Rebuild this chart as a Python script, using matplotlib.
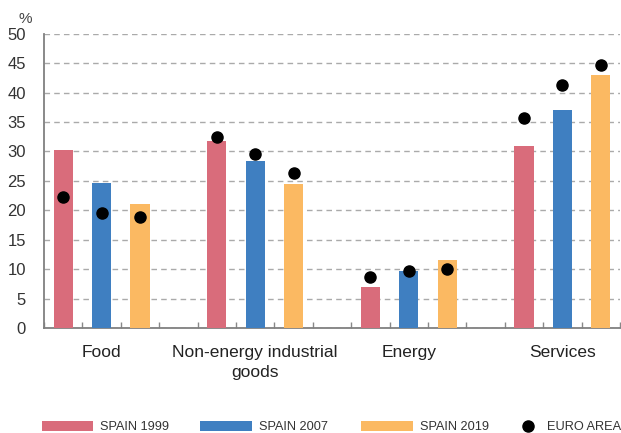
import matplotlib
matplotlib.use("Agg")
import matplotlib.pyplot as plt
from matplotlib.patches import Patch
from matplotlib.lines import Line2D
from matplotlib import font_manager as fm

categories = ["Food", "Non-energy industrial\ngoods", "Energy", "Services"]
series_names = ["SPAIN 1999", "SPAIN 2007", "SPAIN 2019"]
spain_1999 = [30.3, 31.8, 6.9, 31.0]
spain_2007 = [24.7, 28.4, 9.7, 37.1]
spain_2019 = [21.1, 24.5, 11.6, 42.9]
euro_1999 = [22.3, 32.4, 8.7, 35.7]
euro_2007 = [19.5, 29.5, 9.6, 41.3]
euro_2019 = [18.9, 26.4, 10.1, 44.6]
euro_name = "EURO AREA"
yticks = [0, 5, 10, 15, 20, 25, 30, 35, 40, 45, 50]

colors = ["#D96C7B", "#3F7FC1", "#FBB962"]

plt.rcParams['font.family'] = ['Liberation Sans', 'DejaVu Sans']
names = {f.name for f in fm.fontManager.ttflist}
if 'Liberation Sans Narrow' in names:
    narrow, nsize = 'Liberation Sans Narrow', 10.5
else:
    narrow, nsize = 'Liberation Sans', 9.2

fig = plt.figure(figsize=(6.21, 4.33), dpi=100)
ax = fig.add_axes([44/621, 1-328/433, 576/621, (328-33.7)/433])

spain = [spain_1999, spain_2007, spain_2019]
euro = [euro_1999, euro_2007, euro_2019]
for i in range(3):
    xs = [g*4 + i for g in range(len(categories))]
    ax.bar(xs, spain[i], width=0.5, color=colors[i], zorder=3)
for i in range(3):
    xs = [g*4 + i for g in range(len(categories))]
    ax.plot(xs, euro[i], 'o', color='black', markersize=8, zorder=4, linestyle='none')

ax.set_xlim(-0.5, 14.5)
ax.set_ylim(0, 50)
ax.set_yticks(yticks)
ax.set_yticklabels([str(v) for v in yticks], fontsize=12, color='#333333')
ax.tick_params(axis='y', length=0, pad=13)
ax.yaxis.grid(True, color='#AAAAAA', linestyle=(0, (4, 3)), linewidth=1)
ax.set_axisbelow(True)

ax.set_xticks([k - 0.5 for k in range(16)])
ax.set_xticklabels([])
ax.tick_params(axis='x', which='major', direction='in', length=4, color='#888888', width=1)
ax.set_xticks([g*4 + 1 for g in range(len(categories))], minor=True)
ax.set_xticklabels(categories, minor=True, fontsize=12.5, color='#222222', linespacing=1.45)
ax.tick_params(axis='x', which='minor', length=0, pad=12)

for s in ['top', 'right']:
    ax.spines[s].set_visible(False)
for s in ['left', 'bottom']:
    ax.spines[s].set_color('#808080')
    ax.spines[s].set_linewidth(1.3)

ax.text(-0.02, 1.025, "%", transform=ax.transAxes, ha='right', va='bottom', fontsize=11, color='#444444')

# legend: one small legend per entry, anchored at reference positions
fs_px = nsize * 100 / 72
entries = [(Patch(facecolor=colors[0], edgecolor='none'), series_names[0], 42, 51, 7),
           (Patch(facecolor=colors[1], edgecolor='none'), series_names[1], 200, 52, 7),
           (Patch(facecolor=colors[2], edgecolor='none'), series_names[2], 361, 52, 7),
           (Line2D([], [], marker='o', color='black', linestyle='none', markersize=8), euro_name, 521, 14, 12)]
ly = 1 - 427/433
for h, lab, x0, hl_px, gap_px in entries:
    leg = fig.legend([h], [lab], loc='center left', bbox_to_anchor=(x0/621, ly),
                     frameon=False, borderaxespad=0, borderpad=0,
                     handlelength=hl_px/fs_px, handleheight=10/fs_px, handletextpad=gap_px/fs_px,
                     prop={'family': narrow, 'size': nsize})
    for t in leg.get_texts():
        t.set_color('#333333')

fig.savefig("out.png", dpi=100)
